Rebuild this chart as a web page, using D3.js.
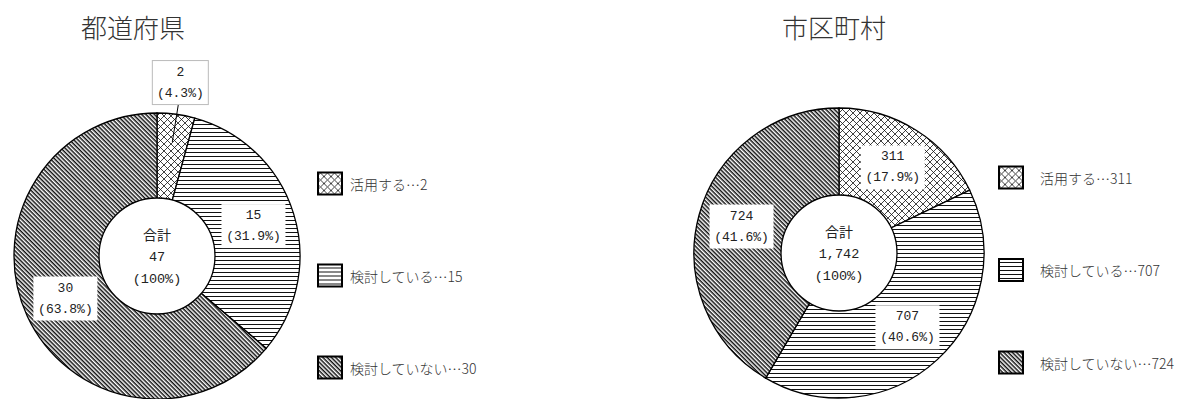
<!DOCTYPE html>
<html>
<head>
<meta charset="utf-8">
<script src="https://d3js.org/d3.v7.min.js"></script>
<style>
body { margin: 0; background: #fff; }
.title { font-family: "Noto Sans CJK JP"; font-size: 26px; font-weight: 300; fill: #333; text-anchor: middle; }
.lbl { font-family: "Liberation Mono", "Noto Sans CJK JP"; font-size: 13px; fill: #222; text-anchor: middle; }
.legend text { font-family: "Noto Sans CJK JP"; font-size: 14px; font-weight: 300; fill: #333; }
</style>
</head>
<body>
<svg id="chart" width="1197" height="399"></svg>
<script>
// data
var categories = ["活用する", "検討している", "検討していない"];
var titles = ["都道府県", "市区町村"];
var prefValues = [2, 15, 30];
var muniValues = [311, 707, 724];
var totalLabel = "合計";

var svg = d3.select("#chart");
var defs = svg.append("defs");

// hatch patterns, one per category
var p0 = defs.append("pattern").attr("id", "pat0")
  .attr("patternUnits", "userSpaceOnUse").attr("width", 7).attr("height", 7);
p0.append("rect").attr("width", 7).attr("height", 7).attr("fill", "#fff");
p0.append("path").attr("d", "M0,0L7,7M7,0L0,7M-1,6L1,8M6,-1L8,1M-1,1L1,-1M6,8L8,6")
  .attr("stroke", "#111").attr("stroke-width", 0.8);

var p1 = defs.append("pattern").attr("id", "pat1")
  .attr("patternUnits", "userSpaceOnUse").attr("width", 8).attr("height", 4);
p1.append("rect").attr("width", 8).attr("height", 4).attr("fill", "#fff");
p1.append("line").attr("x1", 0).attr("x2", 8).attr("y1", 0.5).attr("y2", 0.5)
  .attr("stroke", "#111").attr("stroke-width", 1);

// dense "\\\" lines
var p2 = defs.append("pattern").attr("id", "pat2")
  .attr("patternUnits", "userSpaceOnUse").attr("width", 8).attr("height", 3)
  .attr("patternTransform", "rotate(45)");
p2.append("rect").attr("width", 8).attr("height", 3).attr("fill", "#fff");
p2.append("line").attr("x1", 0).attr("x2", 8).attr("y1", 0.75).attr("y2", 0.75)
  .attr("stroke", "#111").attr("stroke-width", 1.5);

var fills = ["url(#pat0)", "url(#pat1)", "url(#pat2)"];
var pctFmt = d3.format(".1f");
var numFmt = d3.format(",");

var charts = [
  {title: titles[0], values: prefValues, cx: 157, cy: 256, R: 143, r: 58, tx: 133,
   lx: 317, ly: 183.5, lstep: 92, ltx: 33},
  {title: titles[1], values: muniValues, cx: 839, cy: 253, R: 145, r: 58, tx: 834,
   lx: 998, ly: 177.5, lstep: 92.5, ltx: 42}
];

var pie = d3.pie().sort(null).value(function(d) { return d; });

charts.forEach(function(c) {
  var total = d3.sum(c.values);
  var arcs = pie(c.values);
  var arc = d3.arc().innerRadius(0).outerRadius(c.R);
  var labelArc = d3.arc().innerRadius(101).outerRadius(101);
  var outArc = d3.arc().innerRadius(175).outerRadius(175);
  var leadArc = d3.arc().innerRadius(115).outerRadius(115);

  svg.append("text").attr("class", "title")
    .attr("x", c.tx).attr("y", 38).text(c.title);

  var g = svg.append("g").attr("transform", "translate(" + c.cx + "," + c.cy + ")");

  g.selectAll("path.slice").data(arcs).enter().append("path")
    .attr("class", "slice")
    .attr("d", arc)
    .attr("fill", function(d, i) { return fills[i]; })
    .attr("stroke", "#000").attr("stroke-width", 1.3);

  g.append("circle").attr("r", c.r).attr("fill", "#fff")
    .attr("stroke", "#000").attr("stroke-width", 1.3);

  // center total
  var ct = [totalLabel, numFmt(total), "(100%)"];
  var cdy = [-20, 1, 23];
  g.selectAll("text.ctr").data(ct).enter().append("text")
    .attr("class", "lbl ctr")
    .attr("y", function(d, i) { return cdy[i]; })
    .attr("dominant-baseline", "central")
    .style("font-size", function(d, i) { return i == 0 ? "14px" : "13.5px"; })
    .text(function(d) { return d; });

  // slice labels
  arcs.forEach(function(d) {
    var small = d.value / total < 0.1;
    var p = small ? outArc.centroid(d) : labelArc.centroid(d);
    if (small) {
      var q = leadArc.centroid(d);
      g.append("line").attr("x1", p[0] - 2).attr("y1", p[1] + 22)
        .attr("x2", q[0]).attr("y2", q[1]).attr("stroke", "#000").attr("stroke-width", 1);
    }
    var w = small ? 56 : 64;
    g.append("rect").attr("x", p[0] - w / 2).attr("y", p[1] - 22)
      .attr("width", w).attr("height", 44).attr("fill", "#fff")
      .attr("stroke", small ? "#bbb" : "none").attr("stroke-width", 1);
    var lines = [numFmt(d.value), "(" + pctFmt(d.value / total * 100) + "%)"];
    g.selectAll(null).data(lines).enter().append("text")
      .attr("class", "lbl")
      .attr("x", p[0])
      .attr("y", function(t, i) { return p[1] - 10.5 + i * 21; })
      .attr("dominant-baseline", "central")
      .text(function(t) { return t; });
  });

  // legend
  var lg = svg.append("g").attr("class", "legend");
  var items = lg.selectAll("g").data(categories).enter().append("g")
    .attr("transform", function(d, i) {
      return "translate(" + c.lx + "," + (c.ly + i * c.lstep) + ")";
    });
  items.append("rect").attr("x", 1).attr("y", -11).attr("width", 24).attr("height", 22)
    .attr("fill", function(d, i) { return fills[i]; })
    .attr("stroke", "#000").attr("stroke-width", 2);
  items.append("text").attr("x", c.ltx).attr("y", 0)
    .attr("dominant-baseline", "central")
    .text(function(d, i) { return d + "…" + c.values[i]; });
});
</script>
</body>
</html>
